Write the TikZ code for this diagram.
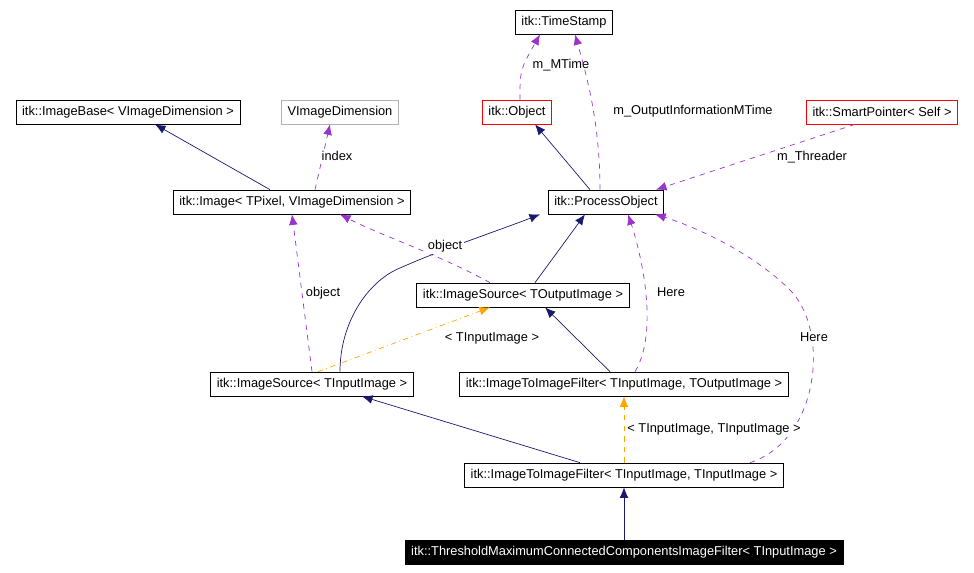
\documentclass[tikz,border=0pt]{standalone}
\usepackage{fontspec}
\setmainfont{Liberation Sans}
\usetikzlibrary{arrows.meta}
\definecolor{navy}{RGB}{25,25,112}
\definecolor{purp}{RGB}{154,50,205}
\definecolor{orng}{RGB}{255,165,0}
\begin{document}
\begin{tikzpicture}[x=0.02cm,y=-0.02cm,
    cls/.style={draw,rectangle,minimum height=0.48cm,inner xsep=3.5pt,inner ysep=2pt,font=\fontsize{7.3}{8}\selectfont},
    inh/.style={navy,-{Latex[length=6pt,width=5pt]}},
    use/.style={purp,dashed,-{Latex[length=6pt,width=5pt]}},
    tpl/.style={orng,dash dot,-{Latex[length=6pt,width=5pt]}},
    lbl/.style={font=\fontsize{7.3}{8}\selectfont,fill=white,inner sep=1pt}]
  \useasboundingbox (0,0) rectangle (974,572);
  \node[cls] (stamp) at (564,22) {itk::TimeStamp};
  \node[cls] (base) at (128,112) {itk::ImageBase< VImageDimension >};
  \node[cls,draw=gray!60] (dim) at (340,112) {VImageDimension};
  \node[cls,draw=red] (obj) at (517,112) {itk::Object};
  \node[cls,draw=red] (smart) at (882,112) {itk::SmartPointer< Self >};
  \node[cls] (image) at (292,202) {itk::Image< TPixel, VImageDimension >};
  \node[cls] (proc) at (606,202) {itk::ProcessObject};
  \node[cls] (srcout) at (523,295) {itk::ImageSource< TOutputImage >};
  \node[cls] (srcin) at (312,384) {itk::ImageSource< TInputImage >};
  \node[cls] (filtio) at (624,384) {itk::ImageToImageFilter< TInputImage, TOutputImage >};
  \node[cls] (filtii) at (624,475) {itk::ImageToImageFilter< TInputImage, TInputImage >};
  \node[cls,fill=black,text=white] (thresh) at (624,552) {itk::ThresholdMaximumConnectedComponentsImageFilter< TInputImage >};
  % inheritance
  \draw[inh] (image.north-|270,0) -- (base.south-|155,0);
  \draw[inh] (proc.north-|590,0) -- (obj.south-|535,0);
  \draw[inh] (srcout.north-|535,0) -- (proc.south-|585,0);
  \draw[inh] (srcin.north-|340,0) .. controls (340,320) and (370,280) .. (400,268)
    .. controls (440,250) and (500,230) .. (proc.south-|540,0);
  \draw[inh] (filtio.north-|610,0) -- (srcout.south-|545,0);
  \draw[inh] (filtii.north-|580,0) -- (srcin.south-|362,0);
  \draw[inh] (thresh) -- (filtii);
  % usage
  \draw[use] (image.north-|315,0) -- (dim.south-|330,0);
  \node[lbl] (lindex) at (337,156) {index};
  \draw[use] (obj.north-|520,0) .. controls (520,70) .. (stamp.south-|540,0);
  \node[lbl] (lmtime) at (561,65) {m\_MTime};
  \draw[use] (proc.north-|600,0) .. controls (600,120) and (585,70) .. (stamp.south-|575,0);
  \node[lbl] (lout) at (693,111) {m\_OutputInformationMTime};
  \draw[use] (smart.south-|855,0) -- (proc.north-|656,0);
  \node[lbl] (lthr) at (812,157) {m\_Threader};
  \draw[use] (srcout.north-|490,0) .. controls (440,255) and (380,235) .. (image.south-|340,0);
  \node[lbl] (lobj1) at (445,246) {object};
  \draw[use] (srcin.north-|312,0) -- (image.south-|292,0);
  \node[lbl] (lobj2) at (323,293) {object};
  \draw[use] (filtio.north-|635,0) .. controls (660,330) and (640,250) .. (proc.south-|628,0);
  \node[lbl] (lhere1) at (671,292) {Here};
  \draw[use] (filtii.north-|750,0) .. controls (820,440) and (830,330) .. (790,290)
    .. controls (750,250) and (690,225) .. (proc.south-|655,0);
  \node[lbl] (lhere2) at (814,337) {Here};
  % template
  \draw[tpl] (srcin.north-|318,0) -- (srcout.south-|490,0);
  \node[lbl] (ltin) at (492,338) {< TInputImage >};
  \draw[tpl,dashed] (filtii.north) -- (filtio.south);
  \node[lbl] (ltii) at (714,429) {< TInputImage, TInputImage >};
\end{tikzpicture}
\end{document}
